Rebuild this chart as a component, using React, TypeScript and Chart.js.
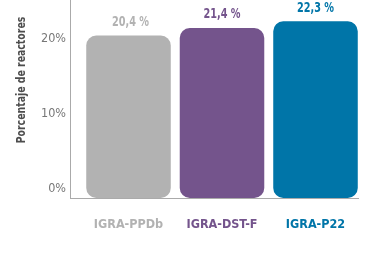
import React, { useEffect, useRef } from "react";
import { Chart, registerables } from "chart.js";

Chart.register(...registerables);

const categories = ["IGRA-PPDb", "IGRA-DST-F", "IGRA-P22"];
const values = [20.4, 21.4, 22.3];
const valueLabels = ["20,4 %", "21,4 %", "22,3 %"];
const barColors = ["#b2b2b2", "#74548c", "#0075a8"];
const labelColors = ["#b2b2b2", "#74548c", "#0075a8"];
const yTicks = [0, 10, 20];
const yAxisTitle = "Porcentaje de reactores";

const FONT = "'DejaVu Sans Condensed', 'Liberation Sans Narrow', 'Roboto', sans-serif";

export default function App() {
  const ref = useRef<HTMLCanvasElement | null>(null);

  useEffect(() => {
    if (!ref.current) return;
    const valueLabelPlugin = {
      id: "valueLabels",
      afterDatasetsDraw(chart: any) {
        const ctx = chart.ctx;
        const meta = chart.getDatasetMeta(0);
        meta.data.forEach((el: any, i: number) => {
          ctx.save();
          ctx.translate(el.x + (i === 0 ? 2 : 0), el.y - 13);
          ctx.scale(0.8, 1);
          ctx.font = `bold 13.5px ${FONT}`;
          ctx.textAlign = "center";
          ctx.textBaseline = "middle";
          ctx.fillStyle = labelColors[i];
          ctx.fillText(valueLabels[i], 0, 0);
          ctx.restore();
        });
      },
    };
    const titlePlugin = {
      id: "yTitle",
      afterDraw(chart: any) {
        const ctx = chart.ctx;
        ctx.save();
        ctx.translate(22, 80);
        ctx.rotate(-Math.PI / 2);
        ctx.scale(0.8, 1);
        ctx.font = `bold 13px ${FONT}`;
        ctx.fillStyle = "#4d4d4d";
        ctx.textAlign = "center";
        ctx.textBaseline = "middle";
        ctx.fillText(yAxisTitle, 0, 0);
        ctx.restore();
      },
    };
    const chart = new Chart(ref.current, {
      type: "bar",
      data: {
        datasets: [
          {
            data: values.map((v, i) => ({ x: i, y: v })),
            backgroundColor: barColors,
            borderRadius: 10,
            borderSkipped: false,
            base: -1.27,
            barPercentage: 0.904,
            categoryPercentage: 1,
          } as any,
        ],
      },
      options: {
        responsive: false,
        animation: false,
        layout: { padding: { top: 0, left: 0, right: 22, bottom: 0 } },
        plugins: { legend: { display: false }, tooltip: { enabled: false } },
        scales: {
          x: {
            type: "linear",
            offset: false,
            min: -0.6257,
            max: 2.4545,
            grid: { display: false, drawTicks: false },
            border: { display: true, color: "#aaaaaa", width: 1 },
            afterBuildTicks: (scale: any) => {
              scale.ticks = categories.map((_, i) => ({ value: i }));
            },
            afterFit: (scale: any) => {
              scale.height = 62;
              scale.paddingLeft = 0;
              scale.paddingRight = 0;
            },
            ticks: {
              padding: 19,
              autoSkip: false,
              maxRotation: 0,
              font: { family: FONT, size: 12.5, weight: "bold" },
              color: (c: any) => labelColors[c.index] || "#999",
              callback: (v: any) => categories[v as number] ?? "",
            },
          },
          y: {
            min: -1.27,
            max: 25.13,
            grid: { display: false, drawTicks: false },
            border: { display: true, color: "#aaaaaa", width: 1 },
            afterBuildTicks: (scale: any) => {
              scale.ticks = yTicks.map((v) => ({ value: v }));
            },
            afterFit: (scale: any) => {
              scale.width = 70;
              scale.paddingTop = 0;
              scale.paddingBottom = 0;
            },
            ticks: {
              padding: 4,
              font: { family: FONT, size: 12.5 },
              color: "#777777",
              callback: (v: any) => `${v}%`,
            },
          },
        },
      },
      plugins: [valueLabelPlugin, titlePlugin],
    } as any);
    return () => chart.destroy();
  }, []);

  return (
    <canvas
      ref={ref}
      width={380}
      height={260}
      style={{ position: "absolute", left: 0, top: 0, display: "block" }}
    />
  );
}
